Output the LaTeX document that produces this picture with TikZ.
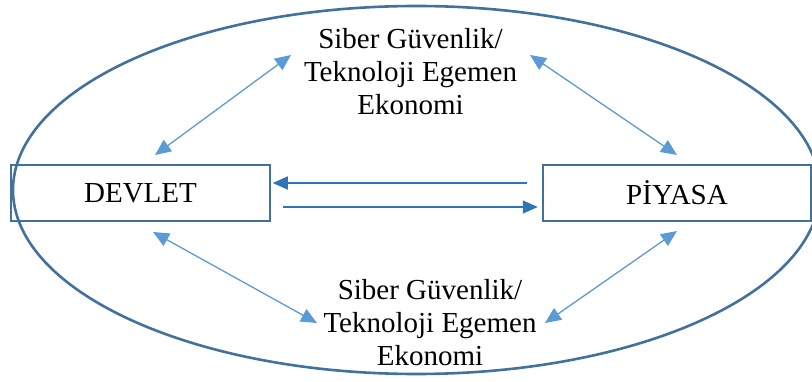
\documentclass[tikz,border=0pt]{standalone}
\usepackage{fontspec}
\setmainfont{Liberation Serif}
\usetikzlibrary{arrows.meta,calc}
\definecolor{ringblue}{HTML}{41719C}
\definecolor{darkarrow}{HTML}{2E75B6}
\definecolor{lightarrow}{HTML}{5B9BD5}
\tikzset{
  boxnode/.style={draw=ringblue, line width=2.5pt, minimum height=56pt, inner sep=0pt, font=\fontsize{29}{33}\selectfont},
  labelnode/.style={align=center, inner sep=0pt, font=\fontsize{29}{33}\selectfont},
  harrow/.style={draw=darkarrow, line width=1.5pt, -{Triangle[length=15pt,width=13pt]}},
  darrow/.style={draw=lightarrow, line width=1.3pt, {Triangle[length=16pt,width=14pt]}-{Triangle[length=16pt,width=14pt]}}
}
\begin{document}
\begin{tikzpicture}[x=1pt,y=-1pt]
\useasboundingbox (0,0) rectangle (812,382);
\begin{scope}
\clip (0,0) rectangle (812,382);
\draw[ringblue, line width=2.6pt] (416.5,190) ellipse [x radius=403.5, y radius=184];
\end{scope}
\node[boxnode, minimum width=259pt] (devlet) at (140.5,193) {DEVLET};
\node[boxnode, minimum width=268pt] (piyasa) at (677,193) {PİYASA};
\node[labelnode] (top) at (410.5,72) {Siber Güvenlik/\\Teknoloji Egemen\\Ekonomi};
\node[labelnode] (bot) at (430,322.5) {Siber Güvenlik/\\Teknoloji Egemen\\Ekonomi};
% horizontal connectors
\coordinate (hs1) at ($(piyasa.west)+(-15,-10)$);
\coordinate (he1) at ($(devlet.east)+(1.5,-10)$);
\coordinate (hs2) at ($(devlet.east)+(12,14)$);
\coordinate (he2) at ($(piyasa.west)+(-4,14)$);
\draw[harrow] (hs1) -- (he1);
\draw[harrow] (hs2) -- (he2);
% diagonal connectors
\coordinate (ul1) at (155,155);
\coordinate (ul2) at (291,55);
\coordinate (ur1) at (530,55);
\coordinate (ur2) at (677,155);
\coordinate (ll1) at (153,232);
\coordinate (ll2) at (317,323);
\coordinate (lr1) at (545,323);
\coordinate (lr2) at (677,231);
\draw[darrow] (ul1) -- (ul2);
\draw[darrow] (ur1) -- (ur2);
\draw[darrow] (ll1) -- (ll2);
\draw[darrow] (lr1) -- (lr2);
\end{tikzpicture}
\end{document}
